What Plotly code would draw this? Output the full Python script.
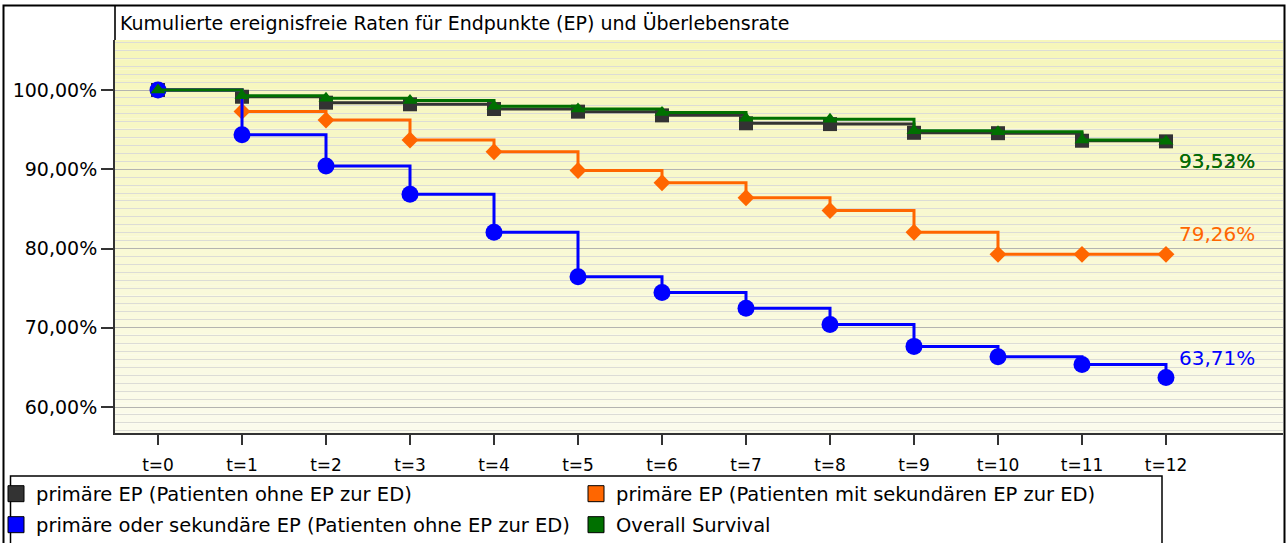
import plotly.graph_objects as go

# ---------------- data ----------------
t_vals = list(range(13))
t_labels = [f"t={i}" for i in t_vals]

prim_ohne = [100.0, 99.15, 98.4, 98.2, 97.6, 97.27, 96.8, 95.8, 95.7, 94.6, 94.55, 93.6, 93.52]
prim_mit_sek = [100.0, 97.3, 96.2, 93.7, 92.2, 89.85, 88.3, 86.4, 84.8, 82.05, 79.26, 79.26, 79.26]
prim_oder_sek = [100.0, 94.35, 90.4, 86.85, 82.05, 76.45, 74.45, 72.45, 70.4, 67.65, 66.35, 65.35, 63.71]
overall_surv = [100.0, 99.28, 98.95, 98.68, 97.95, 97.6, 97.15, 96.45, 96.3, 94.85, 94.72, 93.7, 93.53]

names = [
    "primäre EP (Patienten ohne EP zur ED)",
    "primäre EP (Patienten mit sekundären EP zur ED)",
    "primäre oder sekundäre EP (Patienten ohne EP zur ED)",
    "Overall Survival",
]
series = [prim_ohne, prim_mit_sek, prim_oder_sek, overall_surv]
colors = ["#333333", "#ff6600", "#0000ff", "#007000"]
symbols = ["square", "diamond", "circle", "triangle-up"]
msizes = [14, 13, 17, 13]
end_labels = ["93,52%", "79,26%", "63,71%", "93,53%"]
label_shift = [-20, 20, 20, -20]
legend_ids = ["legend", "legend", "legend2", "legend2"]

y_ticks = [60, 70, 80, 90, 100]
y_ticktext = ["60,00%", "70,00%", "80,00%", "90,00%", "100,00%"]
title_text = "Kumulierte ereignisfreie Raten für Endpunkte (EP) und Überlebensrate"

# ---------------- geometry ----------------
W, H = 1286, 543
ML, MR, MT, MB = 115, 3, 40, 110
PW, PH = W - ML - MR, H - MT - MB
YR = [56.72, 106.31]
XR = [-0.512, 13.393]
FONT = "DejaVu Sans"


def px_x(px):
    return (px - ML) / PW


def px_y(py):
    return (H - MB - py) / PH


fig = go.Figure()

for s, name, c, sym, ms in zip(series, names, colors, symbols, msizes):
    fig.add_trace(go.Scatter(
        x=t_vals, y=s, mode="lines+markers", line=dict(color=c, width=3, shape="hv"),
        marker=dict(symbol=sym, size=ms, color=c, line=dict(width=0)),
        showlegend=False, hoverinfo="skip", cliponaxis=False,
    ))

# legend-only entries (filled squares with black border)
for name, c, lg in zip(names, colors, legend_ids):
    fig.add_trace(go.Scatter(
        x=[None], y=[None], mode="markers", name=name, legend=lg,
        marker=dict(symbol="square", size=16, color=c, line=dict(color="black", width=1)),
    ))

# end value labels
for s, c, txt, sh in zip(series, colors, end_labels, label_shift):
    fig.add_annotation(x=t_vals[-1], y=s[-1], text=txt, showarrow=False,
                       xanchor="left", yanchor="middle", xshift=11, yshift=sh,
                       font=dict(family=FONT, size=20, color=c))

# title
fig.add_annotation(xref="paper", yref="paper", x=px_x(118), y=px_y(23), text=title_text,
                   showarrow=False, xanchor="left", yanchor="middle",
                   font=dict(family=FONT, size=19, color="black"))

# background gradient in plot area
top = (246, 246, 186)
bot = (251, 251, 236)
N = 40
for i in range(N):
    f = i / (N - 1)
    col = tuple(round(top[k] + (bot[k] - top[k]) * f) for k in range(3))
    fig.add_shape(type="rect", xref="paper", yref="paper", x0=0, x1=1,
                  y0=1 - (i + 1) / N, y1=1 - i / N, line=dict(width=0),
                  fillcolor="rgb(%d,%d,%d)" % col, layer="below")

# y-axis line extended up through title band
fig.add_shape(type="line", xref="paper", yref="paper", x0=0, x1=0, y0=1, y1=px_y(5),
              line=dict(color="#333333", width=2))
# outer frame
fig.add_shape(type="rect", xref="paper", yref="paper", x0=px_x(3.5), x1=px_x(1284.5),
              y0=px_y(600), y1=px_y(5.5), line=dict(color="black", width=2))
# legend box
fig.add_shape(type="rect", xref="paper", yref="paper", x0=px_x(10.5), x1=px_x(1162),
              y0=px_y(600), y1=px_y(476), line=dict(color="black", width=1.5))

legend_common = dict(orientation="h", xref="paper", yref="paper", xanchor="left", yanchor="middle",
                     bgcolor="rgba(0,0,0,0)", borderwidth=0, entrywidth=535,
                     font=dict(family=FONT, size=19.5, color="black"), itemclick=False)

fig.update_layout(
    width=W, height=H,
    margin=dict(l=ML, r=MR, t=MT, b=MB, autoexpand=False),
    paper_bgcolor="white", plot_bgcolor="rgba(0,0,0,0)",
    font=dict(family=FONT, size=19, color="black"),
    legend=dict(x=px_x(-4), y=px_y(494), **legend_common),
    legend2=dict(x=px_x(-4), y=px_y(525), **legend_common),
    xaxis=dict(range=XR, tickvals=t_vals, ticktext=t_labels, ticks="outside", ticklen=10,
               tickwidth=2, tickcolor="#333333", showline=True, linewidth=2, linecolor="#333333",
               showgrid=False, zeroline=False, ticklabelstandoff=6,
               tickfont=dict(family=FONT, size=17, color="black"), fixedrange=True),
    yaxis=dict(range=YR, tickvals=y_ticks, ticktext=y_ticktext, ticks="outside", ticklen=12,
               tickwidth=2, tickcolor="#333333", showline=True, linewidth=2, linecolor="#333333",
               showgrid=True, gridcolor="#b4b4b0", gridwidth=1, zeroline=False,
               minor=dict(dtick=1, tick0=0, showgrid=True, gridcolor="#dcdcd6", gridwidth=1, ticks=""),
               tickfont=dict(family=FONT, size=19, color="black"), fixedrange=True),
    yaxis2=dict(range=YR, overlaying="y", side="left", dtick=5, tick0=0, showgrid=True,
                gridcolor="#b4b4b0", gridwidth=1, showticklabels=False, ticks="", showline=False,
                zeroline=False, fixedrange=True),
    showlegend=True,
)

fig.write_html("out.html", config={"displayModeBar": False, "staticPlot": True},
               post_script="document.body.style.margin='0px';")
